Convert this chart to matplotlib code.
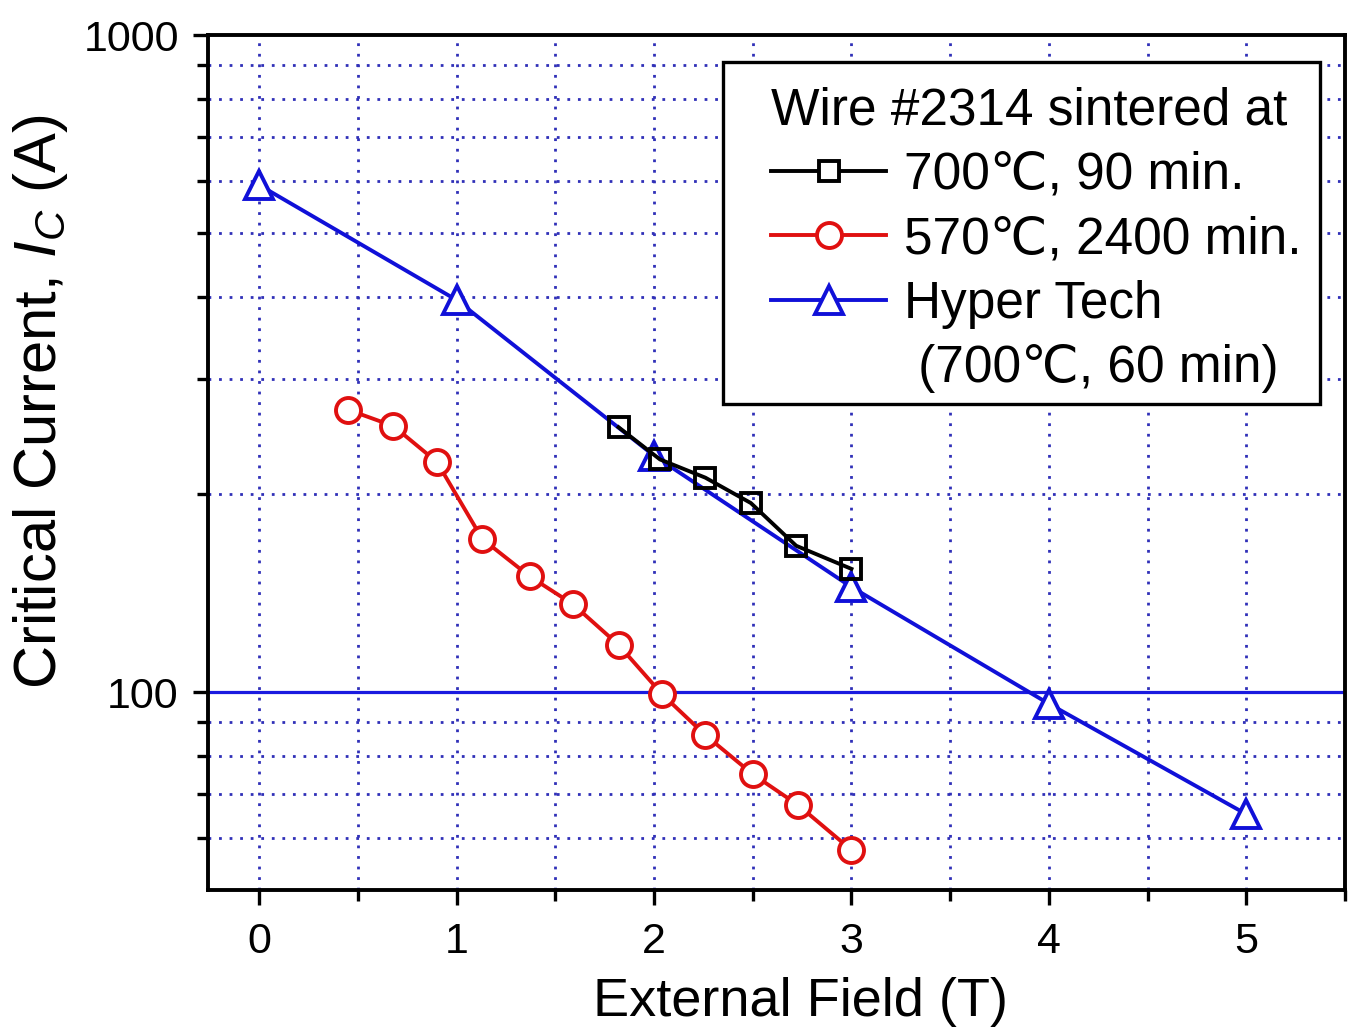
import numpy as np
import matplotlib
matplotlib.use("Agg")
import matplotlib.pyplot as plt
from matplotlib.lines import Line2D
from matplotlib.patches import Rectangle
from matplotlib.ticker import FixedLocator, NullFormatter, MultipleLocator

plt.rcParams['font.family'] = ['Liberation Sans', 'DejaVu Sans']
plt.rcParams['mathtext.fontset'] = 'custom'
plt.rcParams['mathtext.rm'] = 'Liberation Sans'
plt.rcParams['mathtext.it'] = 'Liberation Sans:italic'

# wire #2314, 700C 90 min
field_700 = [1.82, 2.03, 2.26, 2.49, 2.72, 3.0]
ic_700 = [253, 226, 212, 194, 167, 154]

# wire #2314, 570C 2400 min
field_570 = [0.45, 0.68, 0.90, 1.13, 1.37, 1.59, 1.82, 2.04, 2.26, 2.50, 2.73, 3.0]
ic_570 = [269, 254, 224, 171, 150, 136, 118, 99.3, 86, 75, 67.3, 57.5]

# Hyper Tech, 700C 60 min
field_ht = [0, 1, 2, 3, 4, 5]
ic_ht = [591, 395, 229, 144.5, 96, 65.2]

ref_level = 100

fig = plt.figure(figsize=(13.52, 10.30), dpi=100)
ax = fig.add_axes([0.1538, 0.136, 0.841, 0.830])

grid_col = '#3030b8'
dot = (0, (1, 2.8))
blue = '#1010d8'
red = '#e01010'
lw = 2.8

ax.set_yscale('log')
ax.set_xlim(-0.26, 5.5)
ax.set_ylim(50, 1000)

# grid lines (dotted blue), drawn at every tick except 100
for xv in np.arange(0, 5.01, 0.5):
    ax.axvline(xv, color=grid_col, lw=2.0, ls=dot, zorder=1)
for yv in [60, 70, 80, 90, 200, 300, 400, 500, 600, 700, 800, 900]:
    ax.axhline(yv, color=grid_col, lw=2.0, ls=dot, zorder=1)
ax.axhline(ref_level, color='#1a1ae0', lw=2.3, zorder=2)

ax.plot(field_ht, ic_ht, color=blue, lw=lw, marker='^', ms=20,
        mfc='white', mec=blue, mew=2.8, zorder=3)
ax.plot(field_700, ic_700, color='black', lw=lw, marker='s', ms=15,
        mfc='none', mec='black', mew=2.8, zorder=4)
ax.plot(field_570, ic_570, color=red, lw=lw, marker='o', ms=18,
        mfc='white', mec=red, mew=2.8, zorder=4)

# ticks
ax.xaxis.set_major_locator(MultipleLocator(1))
ax.xaxis.set_minor_locator(MultipleLocator(0.5))
ax.yaxis.set_major_locator(FixedLocator([100, 1000]))
ax.yaxis.set_minor_locator(FixedLocator([60, 70, 80, 90, 200, 300, 400, 500, 600, 700, 800, 900]))
ax.yaxis.set_minor_formatter(NullFormatter())
ax.set_yticklabels(['100', '1000'])
ax.tick_params(axis='both', which='major', direction='out', length=11, width=2.4,
               labelsize=31)
ax.tick_params(axis='x', which='major', pad=12)
ax.tick_params(axis='y', which='major', pad=10)
ax.tick_params(axis='both', which='minor', direction='out', length=8, width=2.4)
for sp in ax.spines.values():
    sp.set_linewidth(2.8)

ax.set_xlabel('External Field (T)', fontsize=39)
ax.set_ylabel('Critical Current, $I_C$ (A)', fontsize=43)
ax.xaxis.set_label_coords(0.521, -0.102)
ax.yaxis.set_label_coords(-0.121, 0.571)

handles = [
    Line2D([], [], color='black', lw=lw, marker='s', ms=15, mfc='white', mec='black', mew=2.8),
    Line2D([], [], color=red, lw=lw, marker='o', ms=18, mfc='white', mec=red, mew=2.8),
    Line2D([], [], color=blue, lw=lw, marker='^', ms=20, mfc='white', mec=blue, mew=2.8),
    Line2D([], [], ls='none'),
]
labels = ['700℃, 90 min.', '570℃, 2400 min.', 'Hyper Tech', ' (700℃, 60 min)']
leg = ax.legend(handles, labels, title='Wire #2314 sintered at', loc='upper right',
                bbox_to_anchor=(0.962, 0.940), borderaxespad=0, fontsize=37,
                title_fontsize=37, handlelength=2.24, handletextpad=0.35,
                labelspacing=0.30, borderpad=0, frameon=False, alignment='left')
leg.set_zorder(6)
# legend frame
ax.add_patch(Rectangle((0.453, 0.568), 0.525, 0.400, transform=ax.transAxes,
                       facecolor='white', edgecolor='black', lw=2.4, zorder=5))

fig.savefig('out.png', dpi=100)
